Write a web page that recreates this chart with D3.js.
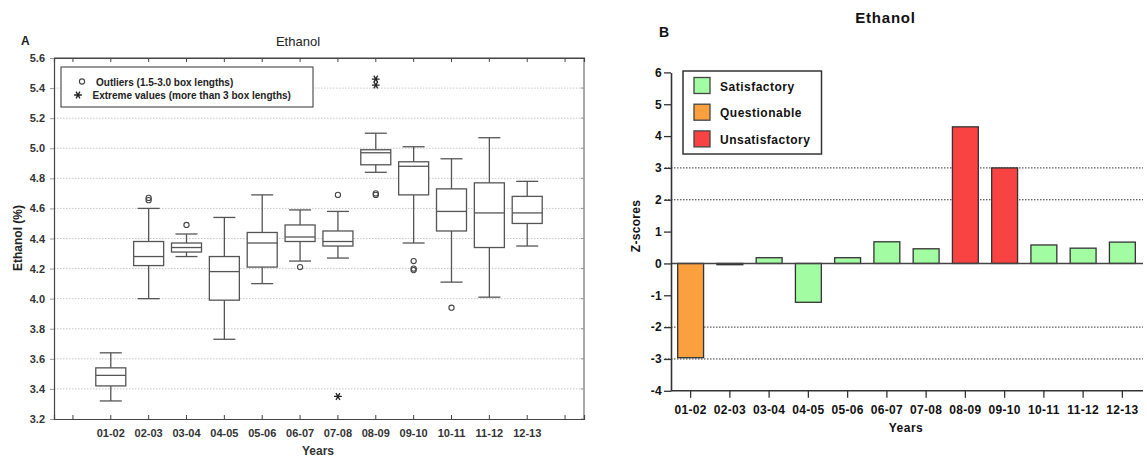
<!DOCTYPE html>
<html>
<head>
<meta charset="utf-8">
<script src="https://cdn.jsdelivr.net/npm/d3@7"></script>
<style>
  body { margin: 0; background: #fff; }
  svg { font-family: "Liberation Sans", Arial, sans-serif; }
</style>
</head>
<body>
<svg id="chart" width="1147" height="457"></svg>
<script>
// ---- panel A : box plots ----
var boxYears = ['01-02','02-03','03-04','04-05','05-06','06-07','07-08','08-09','09-10','10-11','11-12','12-13'];
var whiskerLow  = [3.32, 4.00, 4.28, 3.73, 4.10, 4.25, 4.27, 4.84, 4.37, 4.11, 4.01, 4.35];
var quart1      = [3.42, 4.22, 4.31, 3.99, 4.21, 4.38, 4.35, 4.89, 4.69, 4.45, 4.34, 4.50];
var medians     = [3.49, 4.28, 4.34, 4.18, 4.37, 4.41, 4.38, 4.97, 4.88, 4.58, 4.57, 4.57];
var quart3      = [3.54, 4.38, 4.37, 4.28, 4.44, 4.49, 4.45, 4.99, 4.91, 4.73, 4.77, 4.68];
var whiskerHigh = [3.64, 4.60, 4.43, 4.54, 4.69, 4.59, 4.58, 5.10, 5.01, 4.93, 5.07, 4.78];
// [year, value]
var outliers = [['02-03', 4.67], ['02-03', 4.655], ['03-04', 4.49], ['06-07', 4.21], ['07-08', 4.69],
                ['08-09', 4.70], ['08-09', 4.69], ['09-10', 4.25], ['09-10', 4.20], ['09-10', 4.19], ['10-11', 3.94]];
var extremes = [['07-08', 3.35], ['08-09', 5.46], ['08-09', 5.42]];
var boxTicks = [3.2, 3.4, 3.6, 3.8, 4.0, 4.2, 4.4, 4.6, 4.8, 5.0, 5.2, 5.4, 5.6];
var boxSlots = [''].concat(boxYears).concat([' ']);

// ---- panel B : z-scores ----
var zYears = ['01-02','02-03','03-04','04-05','05-06','06-07','07-08','08-09','09-10','10-11','11-12','12-13'];
var zScores = [-2.96, -0.04, 0.18, -1.22, 0.18, 0.68, 0.46, 4.29, 3.0, 0.58, 0.48, 0.67];
var zClass = ['Questionable','Satisfactory','Satisfactory','Satisfactory','Satisfactory','Satisfactory',
              'Satisfactory','Unsatisfactory','Unsatisfactory','Satisfactory','Satisfactory','Satisfactory'];
var zTicks = [-4, -3, -2, -1, 0, 1, 2, 3, 4, 5, 6];
var zLimits = [3, 2, -2, -3];
var classNames = ['Satisfactory', 'Questionable', 'Unsatisfactory'];
var classColors = ['#a2fca2', '#fba03e', '#f94343'];

var svg = d3.select('#chart');

function drawBoxPanel() {
  var left = 54, right = 584, top = 58, bottom = 419;
  var x = d3.scaleBand().domain(boxSlots).range([left, right]);
  var y = d3.scaleLinear().domain([3.2, 5.6]).range([bottom, top]);
  var cx = function(k) { return x(k) + x.bandwidth() / 2; };
  var g = svg.append('g');

  // grid
  g.selectAll('.grid').data(boxTicks.slice(1, -1)).enter().append('line')
    .attr('x1', left).attr('x2', right)
    .attr('y1', function(d) { return y(d); }).attr('y2', function(d) { return y(d); })
    .attr('stroke', '#c8c8c8').attr('stroke-dasharray', '1.5,1.5');

  // frame
  g.append('line').attr('x1', right).attr('x2', right).attr('y1', top).attr('y2', bottom)
    .attr('stroke', '#aaa').attr('stroke-width', 2);
  g.append('line').attr('x1', left).attr('x2', right + 1).attr('y1', top).attr('y2', top)
    .attr('stroke', '#444').attr('stroke-width', 1.2);
  g.selectAll('.rtick').data(boxTicks).enter().append('line')
    .attr('x1', right - 3).attr('x2', right)
    .attr('y1', function(d) { return y(d); }).attr('y2', function(d) { return y(d); })
    .attr('stroke', '#999');

  var yAxis = g.append('g').attr('transform', 'translate(' + left + ',0)')
    .call(d3.axisLeft(y).tickValues(boxTicks).tickFormat(d3.format('.1f')).tickSize(4).tickPadding(5));
  var xAxis = g.append('g').attr('transform', 'translate(0,' + bottom + ')')
    .call(d3.axisBottom(x).tickSize(-4).tickPadding(10));
  var topAxis = g.append('g').attr('transform', 'translate(0,' + top + ')')
    .call(d3.axisTop(x).tickSize(-4).tickFormat(''));
  [yAxis, xAxis, topAxis].forEach(function(a) {
    a.select('.domain').attr('stroke', '#444').attr('stroke-width', 1.2);
    a.selectAll('.tick line').attr('stroke', '#444');
    a.selectAll('text').attr('fill', '#333').attr('font-size', 11).attr('font-weight', 'bold')
      .attr('font-family', '"Liberation Sans", Arial, sans-serif');
  });
  yAxis.selectAll('.tick line').attr('stroke', '#999');

  // boxes
  var boxW = 30, capW = 22;
  var boxes = g.selectAll('.box').data(boxYears).enter().append('g');
  boxes.append('line')
    .attr('x1', function(d) { return cx(d); }).attr('x2', function(d) { return cx(d); })
    .attr('y1', function(d, i) { return y(whiskerLow[i]); })
    .attr('y2', function(d, i) { return y(whiskerHigh[i]); });
  boxes.append('line')
    .attr('x1', function(d) { return cx(d) - capW / 2; }).attr('x2', function(d) { return cx(d) + capW / 2; })
    .attr('y1', function(d, i) { return y(whiskerLow[i]); }).attr('y2', function(d, i) { return y(whiskerLow[i]); });
  boxes.append('line')
    .attr('x1', function(d) { return cx(d) - capW / 2; }).attr('x2', function(d) { return cx(d) + capW / 2; })
    .attr('y1', function(d, i) { return y(whiskerHigh[i]); }).attr('y2', function(d, i) { return y(whiskerHigh[i]); });
  boxes.append('rect')
    .attr('x', function(d) { return cx(d) - boxW / 2; }).attr('width', boxW)
    .attr('y', function(d, i) { return y(quart3[i]); })
    .attr('height', function(d, i) { return y(quart1[i]) - y(quart3[i]); })
    .attr('fill', '#fff');
  boxes.append('line')
    .attr('x1', function(d) { return cx(d) - boxW / 2; }).attr('x2', function(d) { return cx(d) + boxW / 2; })
    .attr('y1', function(d, i) { return y(medians[i]); }).attr('y2', function(d, i) { return y(medians[i]); });
  boxes.selectAll('line, rect').attr('stroke', '#555').attr('stroke-width', 1.3);

  g.selectAll('.outlier').data(outliers).enter().append('circle')
    .attr('cx', function(d) { return cx(d[0]); }).attr('cy', function(d) { return y(d[1]); })
    .attr('r', 2.6).attr('fill', 'none').attr('stroke', '#444').attr('stroke-width', 1.1);
  var star = d3.symbol().type(d3.symbolAsterisk).size(42);
  g.selectAll('.extreme').data(extremes).enter().append('path')
    .attr('transform', function(d) { return 'translate(' + cx(d[0]) + ',' + y(d[1]) + ') rotate(90)'; })
    .attr('d', star).attr('fill', 'none').attr('stroke', '#222').attr('stroke-width', 1.3);

  // legend
  var lg = g.append('g');
  lg.append('rect').attr('x', 61).attr('y', 67).attr('width', 252).attr('height', 40)
    .attr('fill', '#fff').attr('stroke', '#444').attr('stroke-width', 1.1);
  lg.append('circle').attr('cx', 82).attr('cy', 81.5).attr('r', 2.6)
    .attr('fill', 'none').attr('stroke', '#444').attr('stroke-width', 1.1);
  lg.append('path').attr('transform', 'translate(78,95) rotate(90)').attr('d', star)
    .attr('fill', 'none').attr('stroke', '#222').attr('stroke-width', 1.3);
  lg.append('text').attr('x', 96).attr('y', 85.5).text('Outliers (1.5-3.0 box lengths)');
  lg.append('text').attr('x', 92.5).attr('y', 98.5).text('Extreme values (more than 3 box lengths)');
  lg.selectAll('text').attr('font-size', 10).attr('font-weight', 'bold').attr('fill', '#222');

  // titles
  g.append('text').attr('x', 298).attr('y', 46).attr('text-anchor', 'middle')
    .attr('font-size', 13).attr('fill', '#222').text('Ethanol');
  g.append('text').attr('x', 21).attr('y', 45).attr('font-size', 12).attr('font-weight', 'bold')
    .attr('fill', '#222').text('A');
  g.append('text').attr('transform', 'translate(22,238) rotate(-90)').attr('text-anchor', 'middle')
    .attr('font-size', 12).attr('font-weight', 'bold').attr('fill', '#222').text('Ethanol (%)');
  g.append('text').attr('x', 318).attr('y', 455).attr('text-anchor', 'middle')
    .attr('font-size', 12).attr('font-weight', 'bold').attr('fill', '#333').text('Years');
}

function drawZPanel() {
  var left = 671, right = 1143, top = 72.4, bottom = 390.8;
  var x = d3.scaleBand().domain(zYears).range([left, right - 1]).paddingInner(0.34).paddingOuter(0.17);
  var y = d3.scaleLinear().domain([-4, 6]).range([bottom, top]);
  var colorOf = d3.scaleOrdinal().domain(classNames).range(classColors);
  var g = svg.append('g');

  g.selectAll('.limit').data(zLimits).enter().append('line')
    .attr('x1', left - 6).attr('x2', right)
    .attr('y1', function(d) { return y(d); }).attr('y2', function(d) { return y(d); })
    .attr('stroke', '#333').attr('stroke-width', 1).attr('stroke-dasharray', '1.5,1.5');

  g.selectAll('.bar').data(zScores).enter().append('rect')
    .attr('x', function(d, i) { return x(zYears[i]); })
    .attr('width', x.bandwidth())
    .attr('y', function(d) { return y(Math.max(0, d)); })
    .attr('height', function(d) { return Math.abs(y(d) - y(0)); })
    .attr('fill', function(d, i) { return colorOf(zClass[i]); })
    .attr('stroke', '#333').attr('stroke-width', 1.3);

  g.append('line').attr('x1', left).attr('x2', right).attr('y1', y(0)).attr('y2', y(0))
    .attr('stroke', '#444').attr('stroke-width', 1.5);

  // plain hyphen for negatives, like the original
  var yAxis = g.append('g').attr('transform', 'translate(' + left + ',0)')
    .call(d3.axisLeft(y).tickValues(zTicks).tickFormat(function(d) { return String(d); })
      .tickSize(7).tickPadding(2).tickSizeOuter(0));
  var xAxis = g.append('g').attr('transform', 'translate(0,' + bottom + ')')
    .call(d3.axisBottom(x).tickSize(7).tickPadding(8).tickSizeOuter(0));
  xAxis.select('.domain').attr('d', 'M' + left + ',0H' + right);
  [yAxis, xAxis].forEach(function(a) {
    a.select('.domain').attr('stroke', '#333').attr('stroke-width', 1.6);
    a.selectAll('.tick line').attr('stroke', '#333').attr('stroke-width', 1.3);
    a.selectAll('text').attr('fill', '#111').attr('font-size', 12).attr('font-weight', 'bold')
      .attr('letter-spacing', 0.3).attr('font-family', '"Liberation Sans", Arial, sans-serif');
  });

  // legend
  var lg = g.append('g');
  lg.append('rect').attr('x', 683).attr('y', 71).attr('width', 138.5).attr('height', 83)
    .attr('fill', '#fff').attr('stroke', '#333').attr('stroke-width', 1.5);
  var items = lg.selectAll('.item').data(classNames).enter().append('g')
    .attr('transform', function(d, i) { return 'translate(694,' + (77.5 + i * 26.7) + ')'; });
  items.append('rect').attr('width', 16).attr('height', 16)
    .attr('fill', function(d) { return colorOf(d); }).attr('stroke', '#444').attr('stroke-width', 1.3);
  items.append('text').attr('x', 26).attr('y', 13).attr('font-size', 12).attr('font-weight', 'bold')
    .attr('letter-spacing', 0.5).attr('fill', '#111').text(function(d) { return d; });

  g.append('text').attr('x', 885.5).attr('y', 23).attr('text-anchor', 'middle')
    .attr('font-size', 15).attr('font-weight', 'bold').attr('letter-spacing', 0.8).attr('fill', '#111').text('Ethanol');
  g.append('text').attr('x', 659).attr('y', 37).attr('font-size', 14).attr('font-weight', 'bold')
    .attr('fill', '#111').text('B');
  g.append('text').attr('transform', 'translate(640,226) rotate(-90)').attr('text-anchor', 'middle')
    .attr('font-size', 12).attr('font-weight', 'bold').attr('letter-spacing', 0.3).attr('fill', '#111').text('Z-scores');
  g.append('text').attr('x', 906).attr('y', 432).attr('text-anchor', 'middle')
    .attr('font-size', 12).attr('font-weight', 'bold').attr('letter-spacing', 0.5).attr('fill', '#111').text('Years');
}

drawBoxPanel();
drawZPanel();
</script>
</body>
</html>
